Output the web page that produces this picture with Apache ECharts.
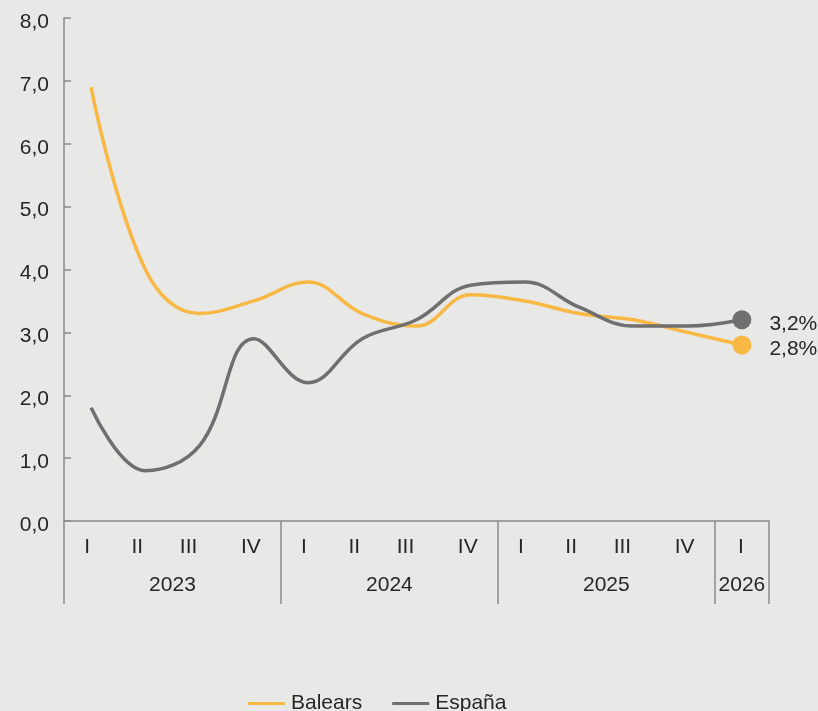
<!DOCTYPE html>
<html>
<head>
<meta charset="utf-8">
<script src="https://cdn.jsdelivr.net/npm/echarts@6/dist/echarts.min.js"></script>
<style>
  html, body { margin: 0; padding: 0; background: #e8e8e6; }
  #chart { width: 818px; height: 711px; }
</style>
</head>
<body>
<div id="chart"></div>
<script>
// trimestres y años
var quarters = ['I', 'II', 'III', 'IV', 'I', 'II', 'III', 'IV', 'I', 'II', 'III', 'IV', 'I'];
var years = ['2023', '2024', '2025', '2026'];
var quartersPerYear = [4, 4, 4, 1];

// series (%)
var balears = [6.9, 4.0, 3.3, 3.5, 3.8, 3.3, 3.1, 3.6, 3.5, 3.3, 3.2, 3.0, 2.8];
var espana = [1.8, 0.8, 1.2, 2.9, 2.2, 2.9, 3.2, 3.75, 3.8, 3.4, 3.1, 3.1, 3.2];

var yMin = 0, yMax = 8, yStep = 1;

var colors = ['#f9b844', '#6f6f71'];
var textColor = '#262626';
var axisColor = '#8a8a8a';
var fontName = 'Liberation Sans, Arial, sans-serif';

// limites y centros de cada año en unidades de trimestre
var yearBounds = [0];
var yearCenters = [];
for (var i = 0; i < quartersPerYear.length; i++) {
    var start = yearBounds[yearBounds.length - 1];
    yearCenters.push(start + quartersPerYear[i] / 2);
    yearBounds.push(start + quartersPerYear[i]);
}

function fmt(v) {
    return v.toFixed(1).replace('.', ',');
}

// el último punto lleva círculo y etiqueta
function withEnd(arr) {
    return arr.map(function (v, i) {
        if (i === arr.length - 1) {
            return {
                value: v,
                symbol: 'circle',
                symbolSize: 19,
                label: {
                    show: true,
                    position: 'right',
                    distance: 18,
                    formatter: function (p) { return '{e|' + fmt(p.value) + '%}'; },
                    rich: {
                        e: { fontSize: 21, color: textColor, fontFamily: fontName, padding: [8, 0, 0, 0] }
                    }
                }
            };
        }
        return v;
    });
}

// desplazamiento de etiquetas del eje (como en el original)
var qShift = { 'I': 8, 'II': 16, 'III': 22, 'IV': 6 };

var chart = echarts.init(document.getElementById('chart'));
var option = {
    backgroundColor: '#e8e8e6',
    color: colors,
    animation: false,
    textStyle: { fontFamily: fontName },
    grid: { left: 64, right: 49, top: 18, bottom: 190 },
    legend: {
        left: 243,
        top: 688,
        icon: 'rect',
        itemWidth: 37,
        itemHeight: 3,
        itemGap: 30,
        textStyle: { color: textColor, fontSize: 21, fontFamily: fontName, padding: [0, 0, 0, 1] },
        data: ['Balears', 'España']
    },
    xAxis: [{
        type: 'category',
        data: quarters,
        boundaryGap: true,
        axisLine: { show: true, lineStyle: { color: axisColor, width: 1.5 } },
        axisTick: { show: false },
        axisLabel: {
            color: textColor,
            fontSize: 21,
            margin: 16,
            interval: 0,
            formatter: function (val, idx) {
                if (idx === quarters.length - 1) return '{q0|' + val + '}';
                return '{q' + qShift[val] + '|' + val + '}';
            },
            rich: {
                q0: { fontSize: 21, color: textColor, padding: [0, 2, 0, 0] },
                q6: { fontSize: 21, color: textColor, padding: [0, 6, 0, 0] },
                q8: { fontSize: 21, color: textColor, padding: [0, 8, 0, 0] },
                q16: { fontSize: 21, color: textColor, padding: [0, 16, 0, 0] },
                q22: { fontSize: 21, color: textColor, padding: [0, 22, 0, 0] }
            }
        },
        splitLine: { show: false }
    }, {
        type: 'value',
        position: 'bottom',
        min: 0,
        max: yearBounds[yearBounds.length - 1],
        axisLine: { show: false },
        axisTick: {
            show: true,
            customValues: yearBounds,
            length: 83,
            lineStyle: { color: axisColor, width: 1.5 }
        },
        axisLabel: {
            show: true,
            customValues: yearCenters,
            color: textColor,
            fontSize: 21,
            margin: 54,
            formatter: function (v) {
                var k = yearCenters.indexOf(v);
                return k >= 0 ? years[k] : '';
            }
        },
        splitLine: { show: false }
    }],
    yAxis: {
        type: 'value',
        min: yMin,
        max: yMax,
        interval: yStep,
        axisLine: { show: true, lineStyle: { color: axisColor, width: 1.5 } },
        axisTick: { show: true, inside: true, length: 7, lineStyle: { color: axisColor, width: 1.5 } },
        axisLabel: {
            color: textColor,
            fontSize: 21,
            margin: 15,
            formatter: function (v) { return '{y|' + fmt(v) + '}'; },
            rich: {
                y: { fontSize: 21, color: textColor, padding: [8, 0, 0, 0] }
            }
        },
        splitLine: { show: false }
    },
    series: [{
        name: 'Balears',
        type: 'line',
        smooth: 0.4,
        symbol: 'none',
        showSymbol: true,
        lineStyle: { width: 3.5, color: colors[0] },
        itemStyle: { color: colors[0] },
        data: withEnd(balears),
        z: 3
    }, {
        name: 'España',
        type: 'line',
        smooth: 0.4,
        symbol: 'none',
        showSymbol: true,
        lineStyle: { width: 3.5, color: colors[1] },
        itemStyle: { color: colors[1] },
        data: withEnd(espana),
        z: 4
    }]
};
chart.setOption(option);
</script>
</body>
</html>
